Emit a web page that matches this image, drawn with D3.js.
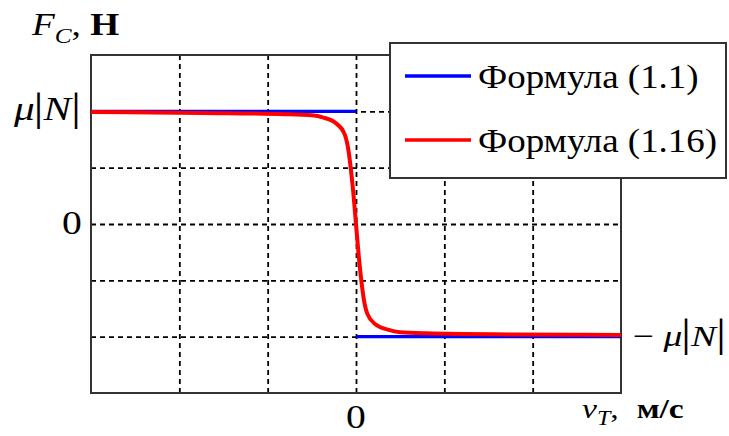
<!DOCTYPE html>
<html>
<head>
<meta charset="utf-8">
<script src="https://cdn.jsdelivr.net/npm/d3@7"></script>
<style>
  body { margin: 0; background: #fff; }
  svg { display: block; }
  text { font-family: "Liberation Serif", "DejaVu Serif", serif; fill: #000; }
</style>
</head>
<body>
<div id="chart"></div>
<script>
// values (units: F in fractions of |N|-scale, v arbitrary)
const gridX = [-2, -1, 0, 1, 2];
const gridY = [-2, -1, 0, 1, 2];
const muN = 2; // level of mu|N|

// Formula (1.1): ideal step, two flat pieces
const blueV = [-3, 0, null, 0, 3];
const blueF = [2, 2, null, -2, -2];

// Formula (1.16): smooth curve
const redV = [-3, -1.75, -0.8, -0.5, -0.37, -0.22, -0.13, -0.09, -0.06, -0.03, 0,
              0.03, 0.06, 0.09, 0.13, 0.22, 0.37, 0.5, 0.8, 1.75, 3];
const redF = [1.99, 1.97, 1.95, 1.93, 1.89, 1.78, 1.6, 1.35, 1.0, 0.55, 0,
              -0.55, -1.0, -1.35, -1.6, -1.78, -1.88, -1.92, -1.94, -1.96, -1.97];

const legendLabels = ['Формула (1.1)', 'Формула (1.16)'];
const legendColors = ['#0000ff', '#ff0000'];

const W = 729, H = 436;
const plot = { left: 91, right: 621, top: 55, bottom: 393 };

const svg = d3.select('#chart').append('svg')
  .attr('width', W).attr('height', H);

const x = d3.scaleLinear().domain([-3, 3]).range([plot.left, plot.right]);
const y = d3.scaleLinear().domain([-3, 3]).range([plot.bottom, plot.top]);

// dashed grid through axes
const gridStyle = g => {
  g.select('.domain').remove();
  g.selectAll('.tick line')
    .attr('stroke', '#000').attr('stroke-width', 1.8)
    .attr('stroke-dasharray', '5,4');
  g.selectAll('.tick text').remove();
};
svg.append('g')
  .attr('transform', `translate(0,${plot.bottom})`)
  .call(d3.axisBottom(x).tickValues(gridX).tickSize(-(plot.bottom - plot.top)).tickFormat(''))
  .call(gridStyle);
svg.append('g')
  .attr('transform', `translate(${plot.left},0)`)
  .call(d3.axisLeft(y).tickValues(gridY).tickSize(-(plot.right - plot.left)).tickFormat(''))
  .call(gridStyle);

// frame
svg.append('rect')
  .attr('x', plot.left).attr('y', plot.top)
  .attr('width', plot.right - plot.left).attr('height', plot.bottom - plot.top)
  .attr('fill', 'none').attr('stroke', '#333').attr('stroke-width', 2);

// lines
const blueData = blueV.map((v, i) => ({ v, f: blueF[i] }));
const redData = redV.map((v, i) => ({ v, f: redF[i] }));

const line = d3.line()
  .defined(d => d.v !== null)
  .x(d => x(d.v)).y(d => y(d.f));

svg.append('path').datum(blueData)
  .attr('d', line)
  .attr('fill', 'none').attr('stroke', legendColors[0]).attr('stroke-width', 3.2);

svg.append('path').datum(redData)
  .attr('d', line.curve(d3.curveMonotoneX))
  .attr('fill', 'none').attr('stroke', legendColors[1]).attr('stroke-width', 4);

// helper for stretched text with tspans
function label(px, py, parts, size, sx) {
  const t = svg.append('text')
    .attr('transform', `translate(${px},${py}) scale(${sx || 1.2},1)`)
    .attr('font-size', size);
  parts.forEach(p => {
    const s = t.append('tspan').text(p.t);
    if (p.it) s.attr('font-style', 'italic');
    if (p.b) s.attr('font-weight', 'bold');
    if (p.fs) s.attr('font-size', p.fs);
    if (p.dy) s.attr('dy', p.dy);
    if (p.dx) s.attr('dx', p.dx);
  });
  return t;
}

const muParts = [
  { t: 'μ', it: true },
  { t: '|', fs: 40, dx: -1 },
  { t: 'N', it: true },
  { t: '|', fs: 40 }
];

// y tick labels
label(14, y(muN) + 9, muParts, 33, 1.25);
label(62, y(0) + 10, [{ t: '0' }], 33);
label(633, y(-muN) + 9, [{ t: '− ' }].concat(muParts), 30, 1.25);

// x tick label
label(x(0) - 10, 428, [{ t: '0' }], 33);

// axis titles
label(32, 35, [
  { t: 'F', it: true },
  { t: 'C', it: true, fs: 21, dy: 8 },
  { t: ',', dy: -8 },
  { t: ' Н', b: true }
], 31);

label(582, 418, [
  { t: 'v', it: true },
  { t: 'T', it: true, fs: 20, dy: 7 },
  { t: ',', dy: -7 },
  { t: '  м/с', b: true, dx: 8 }
], 28);

// legend
const lg = svg.append('g');
lg.append('rect')
  .attr('x', 390).attr('y', 43).attr('width', 336).attr('height', 135)
  .attr('fill', '#fff').attr('stroke', '#333').attr('stroke-width', 2);

legendLabels.forEach((txt, i) => {
  const ly = 76 + i * 64;
  lg.append('line')
    .attr('x1', 405).attr('x2', 471).attr('y1', ly).attr('y2', ly)
    .attr('stroke', legendColors[i]).attr('stroke-width', 3.5);
  label(478, ly + 12, [{ t: txt }], 33, 1.12);
});
</script>
</body>
</html>
